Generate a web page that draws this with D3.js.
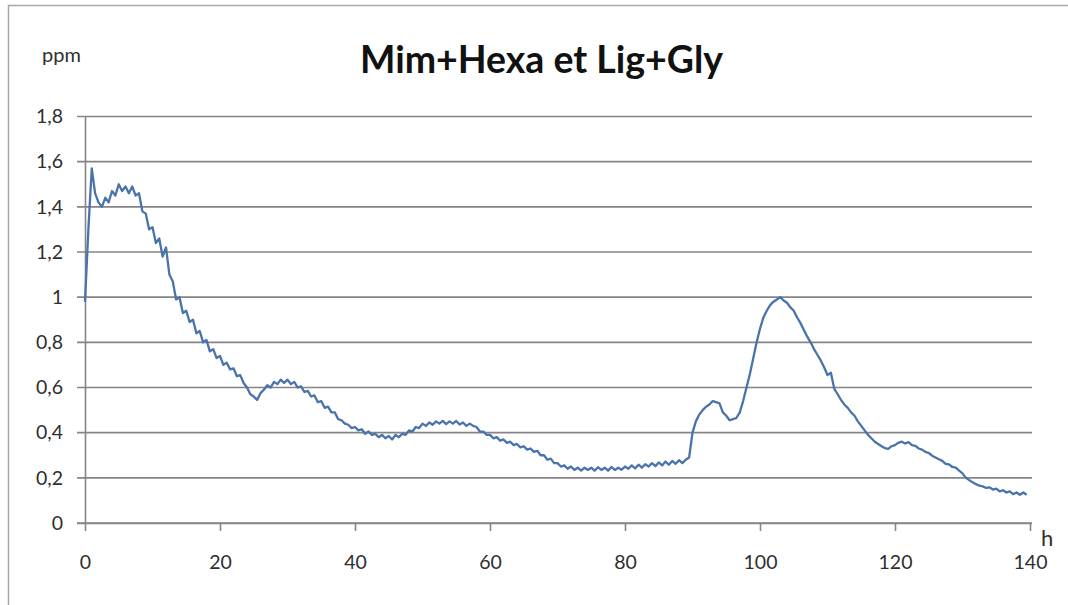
<!DOCTYPE html>
<html>
<head>
<meta charset="utf-8">
<script src="https://cdn.jsdelivr.net/npm/d3@7"></script>
<style>
  html, body { margin: 0; padding: 0; background: #fff; }
  svg { display: block; }
</style>
</head>
<body>
<svg id="chart" width="1068" height="605"></svg>
<script>
// Concentration readings (ppm), one sample every half hour from 0 h.
const sampleStep = 0.5;
const ppm = [
  0.98,1.30,1.57,1.46,1.42,1.40,1.44,1.42,1.47,1.45,
  1.50,1.47,1.49,1.46,1.49,1.45,1.46,1.38,1.37,1.30,
  1.31,1.24,1.26,1.18,1.22,1.10,1.07,0.99,1.00,0.93,
  0.94,0.89,0.90,0.84,0.85,0.80,0.81,0.76,0.77,0.73,
  0.74,0.70,0.71,0.68,0.685,0.65,0.655,0.62,0.60,0.57,
  0.56,0.545,0.575,0.59,0.61,0.60,0.625,0.615,0.635,0.62,
  0.635,0.615,0.625,0.60,0.605,0.58,0.585,0.56,0.565,0.535,
  0.54,0.51,0.515,0.49,0.49,0.46,0.455,0.44,0.435,0.42,
  0.425,0.41,0.415,0.395,0.405,0.39,0.395,0.38,0.39,0.375,
  0.385,0.37,0.39,0.38,0.395,0.39,0.41,0.405,0.425,0.42,
  0.44,0.43,0.445,0.435,0.45,0.44,0.452,0.438,0.45,0.44,
  0.452,0.436,0.445,0.43,0.44,0.43,0.425,0.405,0.405,0.39,
  0.39,0.375,0.38,0.365,0.37,0.355,0.36,0.345,0.35,0.335,
  0.34,0.325,0.33,0.315,0.32,0.30,0.30,0.28,0.285,0.265,
  0.265,0.25,0.255,0.24,0.25,0.235,0.245,0.232,0.245,0.235,
  0.245,0.232,0.247,0.235,0.245,0.232,0.248,0.235,0.245,0.236,
  0.25,0.24,0.255,0.242,0.258,0.245,0.26,0.25,0.265,0.252,
  0.268,0.255,0.272,0.258,0.275,0.262,0.278,0.265,0.28,0.29,
  0.40,0.45,0.48,0.50,0.515,0.525,0.54,0.535,0.53,0.49,
  0.475,0.455,0.46,0.465,0.49,0.54,0.60,0.66,0.73,0.80,
  0.86,0.91,0.94,0.965,0.98,0.99,1.00,0.985,0.975,0.955,
  0.94,0.91,0.885,0.855,0.825,0.80,0.77,0.745,0.72,0.69,
  0.655,0.665,0.595,0.57,0.545,0.525,0.51,0.49,0.475,0.45,
  0.43,0.41,0.39,0.375,0.36,0.35,0.34,0.332,0.328,0.34,
  0.345,0.355,0.36,0.352,0.358,0.345,0.342,0.33,0.325,0.315,
  0.31,0.298,0.29,0.282,0.275,0.262,0.26,0.248,0.245,0.232,
  0.22,0.20,0.19,0.18,0.172,0.165,0.162,0.155,0.158,0.148,
  0.152,0.14,0.145,0.135,0.14,0.128,0.135,0.125,0.135,0.125
];
const xTicks = [0, 20, 40, 60, 80, 100, 120, 140];
const yTicks = [0, 0.2, 0.4, 0.6, 0.8, 1, 1.2, 1.4, 1.6, 1.8];
const title = "Mim+Hexa et Lig+Gly";
const yUnit = "ppm";
const xUnit = "h";

const svg = d3.select("#chart");
const fmt = v => String(v).replace(".", ",");
const labelFont = "Lato, 'Open Sans', sans-serif";

// Plot frame
const plotLeft = 85, plotRight = 1030, plotTop = 116.5, plotBottom = 523;
const x = d3.scaleLinear().domain([0, 140]).range([plotLeft, plotRight]);
const y = d3.scaleLinear().domain([0, 1.8]).range([plotBottom, plotTop]);

// Outer chart border
svg.append("rect")
  .attr("x", 8.5).attr("y", 5.5).attr("width", 1070).attr("height", 610)
  .attr("fill", "none").attr("stroke", "#a8a8a8").attr("stroke-width", 1.5);

// Horizontal gridlines (extending left as tick marks)
svg.append("g")
  .selectAll("line")
  .data(yTicks)
  .join("line")
  .attr("x1", plotLeft - 8).attr("x2", plotRight + 2)
  .attr("y1", d => y(d)).attr("y2", d => y(d))
  .attr("stroke", "#858585").attr("stroke-width", 1.6);

// Y axis with labels
const yAxis = svg.append("g")
  .attr("transform", `translate(${plotLeft},0)`)
  .call(d3.axisLeft(y).tickValues(yTicks).tickFormat(fmt).tickSize(0).tickPadding(22));
yAxis.select(".domain").attr("stroke", "#858585").attr("stroke-width", 1.6);
yAxis.selectAll("text")
  .attr("font-family", labelFont).attr("font-size", 19.5).attr("fill", "#2e2e2e");

// X axis with labels
const xAxis = svg.append("g")
  .attr("transform", `translate(0,${plotBottom})`)
  .call(d3.axisBottom(x).tickValues(xTicks).tickFormat(fmt).tickSizeInner(8).tickSizeOuter(0).tickPadding(24));
xAxis.select(".domain").attr("stroke", "#858585").attr("stroke-width", 1.6)
  .attr("d", `M${plotLeft - 8},0.5H${plotRight + 2}`);
xAxis.selectAll(".tick line").attr("stroke", "#858585").attr("stroke-width", 1.6);
xAxis.selectAll("text")
  .attr("font-family", labelFont).attr("font-size", 19.5).attr("fill", "#2e2e2e");

// Measurement curve
const line = d3.line()
  .x((d, i) => x(i * sampleStep))
  .y(d => y(d));
svg.append("path")
  .datum(ppm)
  .attr("d", line)
  .attr("fill", "none")
  .attr("stroke", "#4a73ab")
  .attr("stroke-width", 2.3)
  .attr("stroke-linejoin", "round");

// Title and unit labels
svg.append("text")
  .attr("x", 360).attr("y", 73)
  .attr("textLength", 363).attr("lengthAdjust", "spacingAndGlyphs")
  .attr("font-family", labelFont).attr("font-weight", "bold")
  .attr("font-size", 38).attr("fill", "#111")
  .text(title);

svg.append("text")
  .attr("x", 42).attr("y", 62)
  .attr("font-family", labelFont).attr("font-size", 20).attr("fill", "#2e2e2e")
  .text(yUnit);

svg.append("text")
  .attr("x", 1041).attr("y", 546)
  .attr("font-family", labelFont).attr("font-size", 22).attr("fill", "#2e2e2e")
  .text(xUnit);
</script>
</body>
</html>
